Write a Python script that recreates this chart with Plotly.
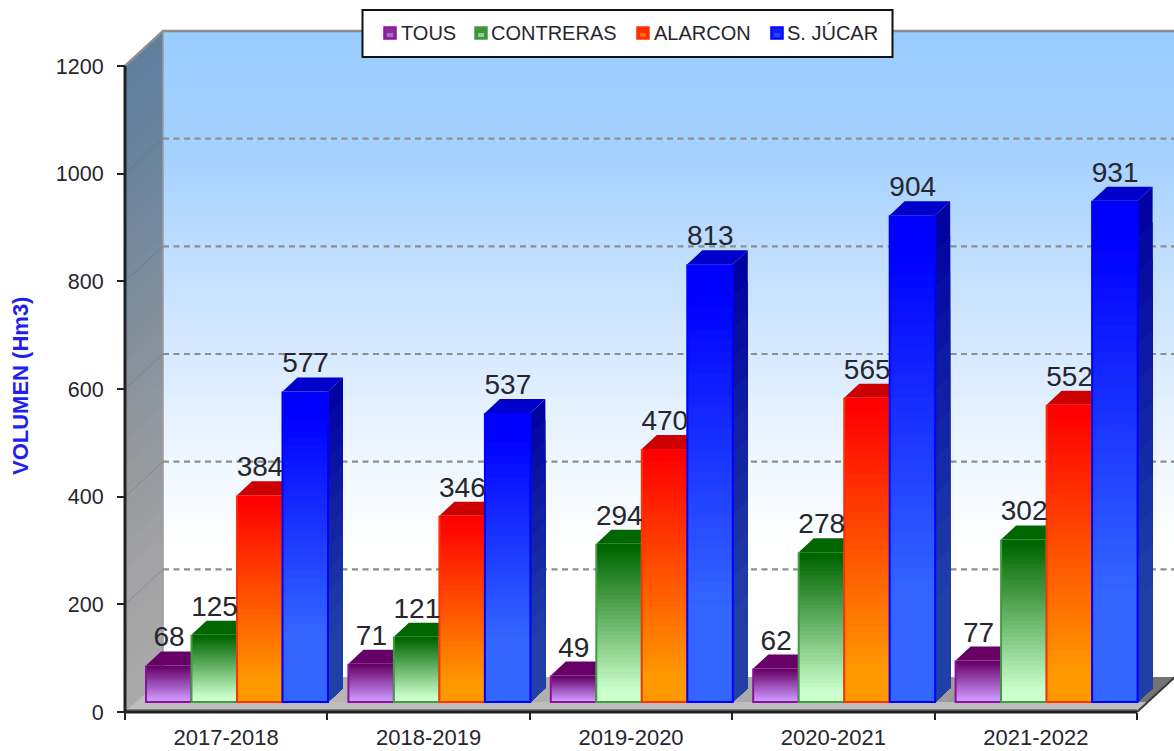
import plotly.graph_objects as go

# ---------- data ----------
seasons = ["2017-2018", "2018-2019", "2019-2020", "2020-2021", "2021-2022"]
tous = [68, 71, 49, 62, 77]
contreras = [125, 121, 294, 278, 302]
alarcon = [384, 346, 470, 565, 552]
sjucar = [577, 537, 813, 904, 931]
series_names = ["TOUS", "CONTRERAS", "ALARCON", "S. JÚCAR"]
y_ticks = [0, 200, 400, 600, 800, 1000, 1200]
grid_levels = [200, 400, 600, 800, 1000]

# ---------- styles ----------
W, H = 1174, 751
L, R, T, B = 125, 1137, 66, 712
XU = (R - L) / 5.0
YU = (B - T) / 1200.0
FONT = "Liberation Sans, Arial, sans-serif"
TXT = "#26262e"
styles = [
    dict(top=(0x66, 0x00, 0x66), bot=(0xcc, 0x99, 0xff), cap="#660066", line="#8f0f9f", side="#550055", g0=0.03, g1=0.95),
    dict(top=(0x00, 0x66, 0x00), bot=(0xcc, 0xff, 0xcc), cap="#006600", line="#3f9f3f", side="#005500", g0=0.03, g1=0.93),
    dict(top=(0xff, 0x00, 0x00), bot=(0xff, 0x99, 0x00), cap="#cc0000", line="#ff3300", side="#aa2200", g0=0.03, g1=0.9),
    dict(top=(0x00, 0x00, 0xff), bot=(0x33, 0x66, 0xff), cap="#0000cc", line="#0000ff", side="#000099", g0=0.08, g1=0.78),
]
all_values = [tous, contreras, alarcon, sjucar]


def dx(px):
    return px / XU


def dy(px):
    return px / YU


def X(px):
    return (px - L) / XU


def Y(py):
    return (B - py) / YU


def mix(a, b, t):
    t = max(0.0, min(1.0, t))
    return "rgb(%d,%d,%d)" % tuple(round(a[i] + (b[i] - a[i]) * t) for i in range(3))


def multi(stops, t):
    n = len(stops) - 1
    i = min(int(t * n), n - 1)
    return mix(stops[i], stops[i + 1], t * n - i)


DEPTH_X, DEPTH_Y = dx(38), dy(35)
BAR_DX, BAR_DY = dx(15), dy(14)
BASE = dy(10)
GROUP_PAD = dx(21)
BAR_W = dx(45.5)
XR = [X(0), X(W)]
YR = [Y(H), Y(0)]

fig = go.Figure()


def poly(xs, ys, fill=None, line=None, lw=0, axis=("x", "y"), dash=None):
    closed = fill is not None
    fig.add_trace(go.Scatter(
        x=xs + [xs[0]] if closed else xs,
        y=ys + [ys[0]] if closed else ys,
        mode="lines",
        fill="toself" if closed else None,
        fillcolor=fill,
        line=dict(color=line or "rgba(0,0,0,0)", width=lw, dash=dash),
        hoverinfo="skip", showlegend=False,
        xaxis=axis[0], yaxis=axis[1],
    ))


# ---------- back wall (bar slices, painted top to bottom) ----------
wall_top = 1200 + DEPTH_Y
wall_bot = DEPTH_Y
N = 90
wall_stops = [(0x99, 0xcc, 0xff), (0xa6, 0xd2, 0xff), (0xc8, 0xe2, 0xff), (0xe6, 0xf2, 0xff), (0xff, 0xff, 0xff), (0xff, 0xff, 0xff)]
h = (wall_top - wall_bot) / N
fig.add_trace(go.Bar(
    x=[2.5 + DEPTH_X] * N,
    width=[5] * N,
    base=[wall_bot] * N,
    y=[(wall_top - wall_bot) - i * h for i in range(N)],
    marker=dict(color=[multi(wall_stops, (i + .5) / N) for i in range(N)], line=dict(width=0)),
    hoverinfo="skip", showlegend=False,
))

# ---------- left wall ----------
left_stops = [(0x5f, 0x7f, 0x9f), (0x6c, 0x85, 0x9e), (0x80, 0x8e, 0x9c), (0x92, 0x98, 0x9e), (0xa2, 0xa2, 0xa4), (0xaa, 0xaa, 0xaa)]
N2 = 50
for i in range(N2):
    v = 1200 - 1200 * i / N2
    poly([0, DEPTH_X, DEPTH_X, 0], [v, v + DEPTH_Y, DEPTH_Y, 0], fill=multi(left_stops, (i + .5) / N2))

# ---------- floor ----------
floor_stops = [(0xbe, 0xbe, 0xba), (0xb6, 0xb6, 0xb2), (0xb0, 0xb0, 0xac), (0xaa, 0xaa, 0xaa), (0x9c, 0x9c, 0x9c), (0x70, 0x70, 0x70)]
N3 = 30
for i in range(N3):
    x0 = 5 * i / N3
    poly([x0, 5, 5 + DEPTH_X, x0 + DEPTH_X], [0, 0, DEPTH_Y, DEPTH_Y],
         fill=multi(floor_stops, (i + .5) / N3))
poly([0, 5, 5 + BAR_DX * .75, BAR_DX * .75], [0, 0, BASE, BASE], fill="#bebebe")
poly([0, 5], [dy(2), dy(2)], line="#808080", lw=2)
poly([5, 5 + DEPTH_X], [0, DEPTH_Y], line="#3a3a3a", lw=2)

# ---------- wall edges and grid ----------
poly([0, DEPTH_X, 5 + DEPTH_X], [1200, wall_top, wall_top], line="#8c8c8c", lw=2.5)
poly([DEPTH_X, DEPTH_X], [wall_top, DEPTH_Y], line="#9a9a9a", lw=1.5)
for g in grid_levels:
    poly([0, DEPTH_X], [g, g + DEPTH_Y], line="rgba(90,100,110,0.35)", lw=1)
    poly([DEPTH_X, 5 + DEPTH_X], [g + DEPTH_Y, g + DEPTH_Y], line="#8e8e8e", lw=2.2, dash="6px,4.5px")

# axis lines
poly([0, 0], [1200, 0], line="#222222", lw=3)
poly([0, 5], [0, 0], line="#222222", lw=3)

# ---------- bars: each series on its own overlaid axes, so later bars hide earlier faces ----------
SL = 40
for s, (vals, st) in enumerate(zip(all_values, styles)):
    n = s + 2
    ax = ("x%d" % n, "y%d" % n)
    xs, bases, heights, cols = [], [], [], []
    for g, v in enumerate(vals):
        left = g + GROUP_PAD + s * BAR_W
        for k in range(SL):
            xs.append(left + BAR_W / 2)
            bases.append(BASE)
            heights.append(v * (1 - k / SL))
            cols.append(mix(st["top"], st["bot"], ((k + .5) / SL - st["g0"]) / (st["g1"] - st["g0"])))
    fig.add_trace(go.Bar(
        x=xs, base=bases, y=heights, width=[BAR_W] * len(xs),
        marker=dict(color=cols, line=dict(width=0)),
        hoverinfo="skip", showlegend=False,
        xaxis=ax[0], yaxis=ax[1],
    ))
    for g, v in enumerate(vals):
        left = g + GROUP_PAD + s * BAR_W
        right = left + BAR_W
        top = BASE + v
        # side face
        SS = 14
        for k in range(SS):
            lv = v * (1 - k / SS)
            t = ((k + .5) / SS) / 0.8
            c = mix((0x00, 0x00, 0xa0), (0x20, 0x40, 0xa8), t) if s == 3 else st["side"]
            poly([right, right + BAR_DX, right + BAR_DX, right],
                 [BASE + lv, BASE + lv + BAR_DY, BASE + BAR_DY, BASE], fill=c, axis=ax)
            if s != 3:
                break
        # cap
        poly([left, right, right + BAR_DX, left + BAR_DX],
             [top, top, top + BAR_DY, top + BAR_DY], fill=st["cap"], axis=ax)
        # outline: both sides and the foot of the front face
        poly([left, left, right, right], [top, BASE, BASE, top], line=st["line"], lw=2, axis=ax)

# ---------- data labels ----------
lx, ly, lt = [], [], []
for s, vals in enumerate(all_values):
    for g, v in enumerate(vals):
        lx.append(g + GROUP_PAD + s * BAR_W + dx(23))
        ly.append(BASE + v + BAR_DY + dy(12))
        lt.append(str(v))
fig.add_trace(go.Scatter(
    x=lx, y=ly, text=lt, mode="text", textposition="middle center",
    textfont=dict(family=FONT, size=28, color=TXT),
    hoverinfo="skip", showlegend=False, xaxis="x6", yaxis="y6",
))

# ---------- layout ----------
layout_axes = {}
for n in range(2, 7):
    layout_axes["xaxis%d" % n] = dict(overlaying="x", range=XR, visible=False, fixedrange=True)
    layout_axes["yaxis%d" % n] = dict(overlaying="y", range=YR, visible=False, fixedrange=True)

fig.update_layout(
    width=W, height=H,
    margin=dict(l=0, r=0, t=0, b=0, autoexpand=False),
    paper_bgcolor="white", plot_bgcolor="rgba(0,0,0,0)",
    barmode="overlay", showlegend=False,
    xaxis=dict(
        range=XR, anchor="free", position=(H - B) / H,
        tickvals=[i + .5 for i in range(5)], ticktext=seasons,
        ticks="", showgrid=False, zeroline=False, showline=False,
        tickfont=dict(family=FONT, size=22, color=TXT), fixedrange=True, ticklabelstandoff=10,
        minor=dict(tickvals=[0, 1, 2, 3, 4, 5], ticks="outside", ticklen=7, tickwidth=2, tickcolor="#222222", showgrid=False),
    ),
    yaxis=dict(
        range=YR, anchor="free", position=L / W,
        tickvals=y_ticks, ticks="outside", ticklen=8, tickwidth=2, tickcolor="#222222",
        showgrid=False, zeroline=False, showline=False, ticklabelstandoff=9,
        tickfont=dict(family=FONT, size=21.5, color=TXT), fixedrange=True,
    ),
    font=dict(family=FONT),
    **layout_axes,
)

# axis title
fig.add_annotation(
    xref="x", yref="y", x=X(20.5), y=Y(386.5), text="<b>VOLUMEN (Hm3)</b>", textangle=-90, showarrow=False,
    font=dict(family=FONT, size=22, color="#1f1fee"),
)

# legend box
fig.add_shape(type="rect", xref="x", yref="y", x0=X(362.5), x1=X(892.5), y0=Y(57), y1=Y(10),
              fillcolor="white", line=dict(color="#111111", width=2), layer="above")
leg_marker_x = [384, 475, 637, 771]
leg_text_x = [401, 491, 654, 787]
for st, name, mx, tx in zip(styles, series_names, leg_marker_x, leg_text_x):
    fig.add_shape(type="rect", xref="x", yref="y", x0=X(mx), x1=X(mx + 12), y0=Y(39), y1=Y(27),
                  fillcolor=mix(st["top"], st["bot"], .3), line=dict(color=st["line"], width=1.5), layer="above")
    fig.add_shape(type="rect", xref="x", yref="y", x0=X(mx + 3), x1=X(mx + 9), y0=Y(37), y1=Y(33),
                  fillcolor=mix(st["top"], st["bot"], .7), line=dict(width=0), layer="above")
    fig.add_annotation(xref="x", yref="y", x=X(tx), y=Y(33), text=name, showarrow=False,
                       xanchor="left", xshift=-2, font=dict(family=FONT, size=20, color=TXT))

fig.write_html("out.html", include_plotlyjs=True, post_script="document.body.style.margin='0';",
               config=dict(displayModeBar=False))
